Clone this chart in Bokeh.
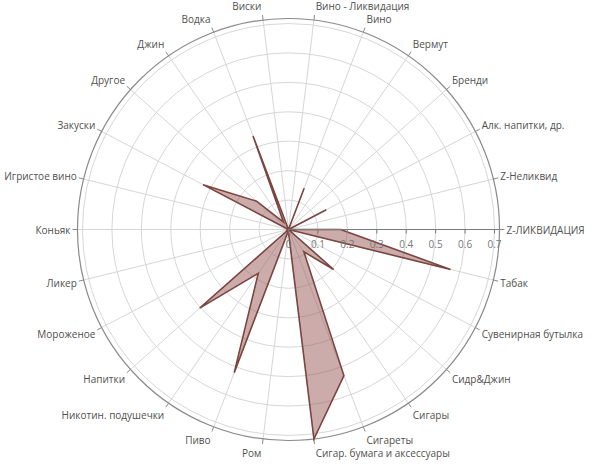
import numpy as np
from bokeh.plotting import figure
from bokeh.models import ColumnDataSource, Range1d
from bokeh.embed import file_html
from bokeh.resources import INLINE
from bokeh.core.properties import value

categories = ["Z-ЛИКВИДАЦИЯ", "Табак", "Сувенирная бутылка", "Сидр&Джин", "Сигары", "Сигареты",
              "Сигар. бумага и аксессуары", "Ром", "Пиво", "Никотин. подушечки", "Напитки",
              "Мороженое", "Ликер", "Коньяк", "Игристое вино", "Закуски", "Другое", "Джин",
              "Водка", "Виски", "Вино - Ликвидация", "Вино", "Вермут", "Бренди",
              "Алк. напитки, др.", "Z-Неликвид"]
values = [0.177, 0.567, 0.0, 0.205, 0.092, 0.531, 0.717, 0.005, 0.52, 0.181, 0.403,
          0.0, 0.0, 0.0, 0.0, 0.328, 0.145, 0.03, 0.34, 0.0, 0.0, 0.15, 0.0, 0.0, 0.145, 0.0]
radial_ticks = [0.0, 0.1, 0.2, 0.3, 0.4, 0.5, 0.6, 0.7]
radial_tick_labels = ["0", "0.1", "0.2", "0.3", "0.4", "0.5", "0.6", "0.7"]
r_max = 0.717

PX = 294.3  # pixels per data unit
W, H = 600, 466
CX, CY = 288, 229  # centre in canvas pixels

p = figure(width=W, height=H, output_backend="svg", toolbar_location=None,
           x_range=Range1d(-CX / PX, (W - CX) / PX), y_range=Range1d(-(H - CY) / PX, CY / PX),
           x_axis_location=None, y_axis_location=None, min_border=0,
           outline_line_color=None, match_aspect=False)
p.grid.visible = False
p.background_fill_color = "white"

n = len(categories)
theta = np.arange(n) * 2 * np.pi / n
cos_t, sin_t = np.cos(theta), np.sin(theta)

GRID = "#d6d6d6"
# grid circles
p.circle(x=[0] * (len(radial_ticks) - 1), y=[0] * (len(radial_ticks) - 1), radius=radial_ticks[1:],
         fill_color=None, line_color=GRID, line_width=1)
# spokes
p.segment(x0=[0] * n, y0=[0] * n, x1=r_max * cos_t, y1=-r_max * sin_t, line_color=GRID, line_width=1)
# outer boundary
p.circle(x=[0], y=[0], radius=[r_max], fill_color=None, line_color="#8a8a8a", line_width=1.2)
# category ticks
t_len = 5 / PX
p.segment(x0=r_max * cos_t, y0=-r_max * sin_t, x1=(r_max + t_len) * cos_t, y1=-(r_max + t_len) * sin_t,
          line_color="#8a8a8a", line_width=1)

# data polygon
vals = np.array(values)
p.patch(x=vals * cos_t, y=-vals * sin_t, fill_color="#9a5a55", fill_alpha=0.5,
        line_color="#7b4540", line_width=1.6, line_join="miter")

# radial axis
p.segment(x0=[0], y0=[0], x1=[r_max], y1=[0], line_color="#7a7a7a", line_width=1)
rt = np.array(radial_ticks)
p.segment(x0=rt, y0=[0] * len(rt), x1=rt, y1=[-4 / PX] * len(rt), line_color="#7a7a7a", line_width=1)
p.text(x=rt, y=[-14 / PX] * len(rt), text=radial_tick_labels, text_align="center",
       text_baseline="middle", text_font=value("Open Sans"), text_font_size="10px", text_color="#777777")

# category labels
lab_r = r_max + 6 / PX
lx = lab_r * cos_t + np.sign(cos_t) * 1 / PX
ly = -lab_r * sin_t - 8 * sin_t / PX
align = ["left" if c > 0.01 else ("right" if c < -0.01 else "center") for c in cos_t]
src = ColumnDataSource(dict(x=lx, y=ly, text=categories, align=align))
p.text(x="x", y="y", text="text", text_align="align", text_baseline="middle", source=src,
       text_font=value("Open Sans"), text_font_size="10px", text_color="#505050")

open("out.html", "w").write(file_html(p, INLINE))
